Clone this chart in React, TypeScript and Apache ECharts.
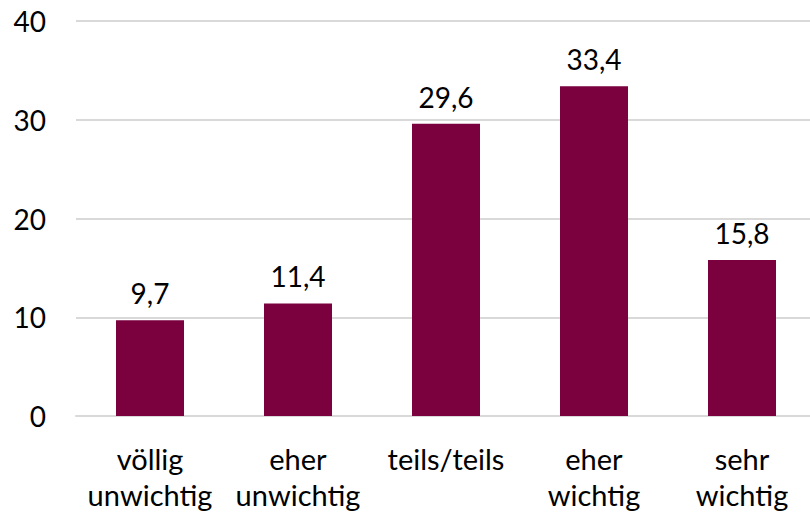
import React, { useEffect, useRef } from "react";
import * as echarts from "echarts";

const categories = ["völlig\nunwichtig", "eher\nunwichtig", "teils/teils", "eher\nwichtig", "sehr\nwichtig"];
const values = [9.7, 11.4, 29.6, 33.4, 15.8];
const yTicks = [0, 10, 20, 30, 40];

const FONT = "Lato, 'Open Sans', sans-serif";

export default function App() {
  const ref = useRef<HTMLDivElement>(null);
  useEffect(() => {
    if (!ref.current) return;
    const chart = echarts.init(ref.current, undefined, { renderer: "svg" });
    chart.setOption({
      animation: false,
      grid: { left: 76, right: 4, top: 21, bottom: 98, containLabel: false },
      xAxis: {
        type: "category",
        data: categories,
        axisLine: { show: true, lineStyle: { color: "#d9d9d9", width: 2 } },
        axisTick: { show: false },
        axisLabel: {
          color: "#000",
          fontSize: 29,
          fontFamily: FONT,
          lineHeight: 36,
          margin: 24,
          interval: 0,
        },
      },
      yAxis: {
        type: "value",
        min: yTicks[0],
        max: yTicks[yTicks.length - 1],
        interval: 10,
        axisLine: { show: false },
        axisTick: { show: false },
        splitLine: { lineStyle: { color: "#d9d9d9", width: 2 } },
        axisLabel: { color: "#000", fontSize: 28, fontFamily: FONT, margin: 30 },
      },
      series: [
        {
          type: "bar",
          data: values,
          barWidth: 68,
          itemStyle: { color: "#7a003e" },
          label: {
            show: true,
            position: "top",
            distance: 13,
            color: "#000",
            fontSize: 28,
            fontFamily: FONT,
            formatter: (p: any) => String(p.value).replace(".", ","),
          },
        },
      ],
    });
    return () => chart.dispose();
  }, []);
  return (
    <div
      style={{ position: "fixed", left: 0, top: 0, width: 810, height: 514, overflow: "hidden", background: "#fff" }}
    >
      <div ref={ref} style={{ width: 820, height: 514 }} />
    </div>
  );
}
